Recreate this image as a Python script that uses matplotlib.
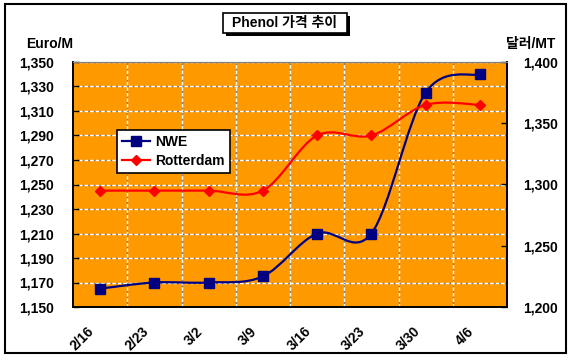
import numpy as np
import matplotlib
matplotlib.use("Agg")
import matplotlib.pyplot as plt
from matplotlib.path import Path
from matplotlib.patches import PathPatch, Rectangle
from matplotlib.lines import Line2D
from matplotlib.transforms import ScaledTranslation

plt.rcParams['font.family'] = ['Liberation Sans', 'Noto Sans CJK KR', 'DejaVu Sans']
plt.rcParams['font.weight'] = 'bold'

# data
dates = ['2/16', '2/23', '3/2', '3/9', '3/16', '3/23', '3/30', '4/6']
nwe = [1165, 1170, 1170, 1175, 1210, 1210, 1325, 1340]            # Euro/M (left)
rotterdam = [1295, 1295, 1295, 1295, 1340, 1340, 1365, 1365]      # 달러/MT (right)

W, H = 572, 362
fig = plt.figure(figsize=(W / 100, H / 100), dpi=100)


def fx(px):
    return px / W


def fy(py):
    return 1 - py / H


def smooth_path(xs, ys):
    # Bezier smoothing like the spreadsheet "smoothed line"
    pts = np.column_stack([xs, ys]).astype(float)
    n = len(pts)
    verts = [pts[0]]
    codes = [Path.MOVETO]
    for i in range(n - 1):
        p0 = pts[max(i - 1, 0)]
        p1 = pts[i]
        p2 = pts[i + 1]
        p3 = pts[min(i + 2, n - 1)]
        c1 = p1 + (p2 - p0) / 6
        c2 = p2 - (p3 - p1) / 6
        verts += [c1, c2, p2]
        codes += [Path.CURVE4] * 3
    return Path(verts, codes)


# outer frame
fig.patches.append(Rectangle((fx(5), fy(353)), fx(561), (353 - 4) / H, transform=fig.transFigure,
                             fill=False, ec='black', lw=1.5))

ax = fig.add_axes([fx(73), fy(307), fx(507 - 73), (307 - 62) / H])
ax.set_facecolor('#FF9900')
x = np.arange(len(dates)) + 0.5
ax.set_xlim(0, len(dates))
ax.set_ylim(1150, 1350)
ax.set_yticks(np.arange(1150, 1351, 20))
ax.yaxis.set_major_formatter(matplotlib.ticker.FuncFormatter(lambda v, p: f'{int(v):,}'))

ax2 = ax.twinx()
ax2.set_ylim(1200, 1400)
ax2.set_yticks(np.arange(1200, 1401, 50))
ax2.yaxis.set_major_formatter(matplotlib.ticker.FuncFormatter(lambda v, p: f'{int(v):,}'))

# grid
ax.set_xticks(np.arange(1, len(dates)), minor=True)
ax.grid(axis='y', which='major', color='white', gapcolor='#808080', linestyle=(0, (2.5, 1.5)), lw=1)
ax.grid(axis='x', which='minor', color='white', gapcolor='#808080', linestyle=(0, (2.5, 1.5)), lw=1)
ax.set_axisbelow(True)

# series
ax.add_patch(PathPatch(smooth_path(x, nwe), fill=False, ec='#000080', lw=1.6, zorder=3))
ax.plot(x, nwe, ls='none', marker='s', ms=6.5, color='#000080', zorder=4)
ax2.add_patch(PathPatch(smooth_path(x, rotterdam), fill=False, ec='#FF0000', lw=1.6, zorder=3))
ax2.plot(x, rotterdam, ls='none', marker='D', ms=5.5, color='#FF0000', zorder=4)

# axes styling
for a in (ax, ax2):
    for s in ('left', 'right', 'bottom'):
        a.spines[s].set_color('black')
        a.spines[s].set_linewidth(1.2)
    a.spines['top'].set_color('#808080')
ax.tick_params(axis='y', direction='in', length=4, width=1, pad=14, labelsize=10)
ax2.tick_params(axis='y', direction='in', length=4, width=1, pad=11.5, labelsize=10)
ax.tick_params(axis='x', which='both', length=0)
ax.set_xticks(x, dates, rotation=45, ha='right', va='center', rotation_mode='anchor', fontsize=10)
ax.tick_params(axis='x', pad=16)
for lab in ax.get_xticklabels():
    lab.set_transform(lab.get_transform() + ScaledTranslation(-8 / 100, 0, fig.dpi_scale_trans))

# axis unit labels
fig.text(fx(50), fy(44), 'Euro/M', ha='center', va='center', fontsize=10, fontweight='bold')
fig.text(fx(531), fy(44), '달러/MT', ha='center', va='center', fontsize=10, fontweight='bold')

# title box with shadow
fig.patches.append(Rectangle((fx(226), fy(36)), fx(124), 20 / H, transform=fig.transFigure,
                             fc='black', ec='black', lw=0))
fig.patches.append(Rectangle((fx(223), fy(33)), fx(124), 20 / H, transform=fig.transFigure,
                             fc='white', ec='black', lw=1.2))
fig.text(fx(285), fy(23), 'Phenol 가격 추이', ha='center', va='center', fontsize=10, fontweight='bold')

# legend
handles = [Line2D([], [], color='#000080', marker='s', ms=6.5, lw=1.6),
           Line2D([], [], color='#FF0000', marker='D', ms=5.5, lw=1.6)]
leg = fig.legend(handles, ['NWE', 'Rotterdam'], loc='upper left',
                 bbox_to_anchor=(fx(117), fy(130)), borderaxespad=0, frameon=True, fancybox=False,
                 edgecolor='black', framealpha=1, fontsize=10, handlelength=2, handletextpad=0.4,
                 borderpad=0.35, labelspacing=0.35)
leg.get_frame().set_linewidth(1.2)

fig.savefig('out.png', dpi=100)
